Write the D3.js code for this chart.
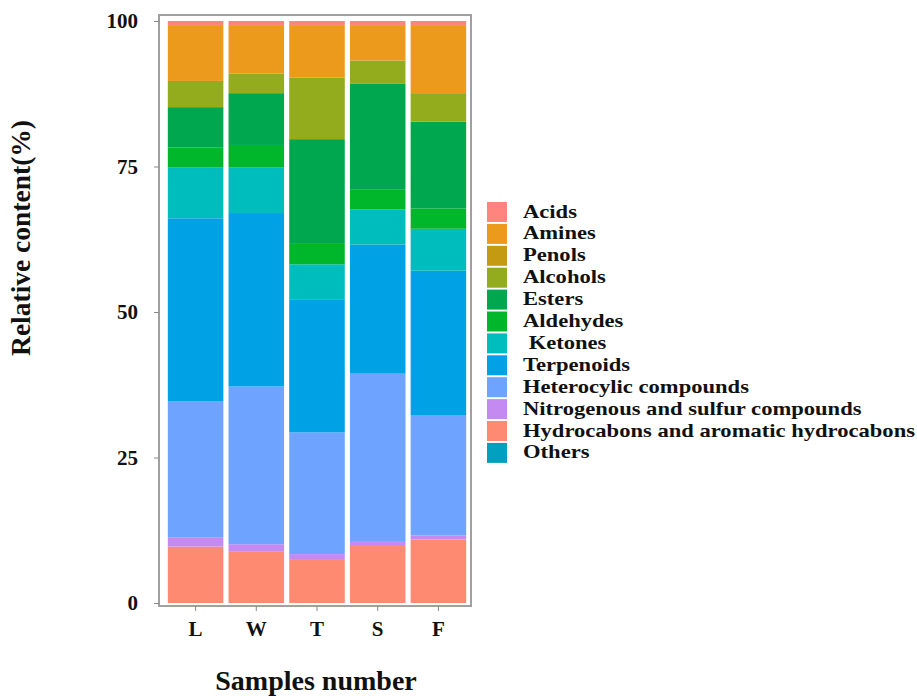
<!DOCTYPE html>
<html>
<head>
<meta charset="utf-8">
<script src="https://cdn.jsdelivr.net/npm/d3@7"></script>
<style>
  body { margin: 0; background: #fff; }
  text { font-family: "Liberation Serif", "Times New Roman", serif; font-weight: bold; fill: #111; }
</style>
</head>
<body>
<svg id="chart" width="917" height="696"></svg>
<script>
// samples and compound groups (legend order)
var samples = ["L", "W", "T", "S", "F"];
var groups = ["Acids", "Amines", "Penols", "Alcohols", "Esters", "Aldehydes", "Ketones",
              "Terpenoids", "Heterocylic compounds", "Nitrogenous and sulfur compounds",
              "Hydrocabons and aromatic hydrocabons", "Others"];
var legendLabels = ["Acids", "Amines", "Penols", "Alcohols", "Esters", "Aldehydes", " Ketones",
              "Terpenoids", "Heterocylic compounds", "Nitrogenous and sulfur compounds",
              "Hydrocabons and aromatic hydrocabons", "Others"];
var colors = ["#FD857E", "#EC9A1C", "#C39A12", "#92AC1E", "#00A74F", "#00B72C", "#00BDBD",
              "#00A2E6", "#6EA4FF", "#C58AF2", "#FF8A72", "#00A0BE"];

// relative content (%) per sample, L W T S F
var acids      = [0.7, 0.7, 0.7, 0.7, 0.7];
var amines     = [9.6, 8.3, 9.0, 6.1, 11.7];
var penols     = [0, 0, 0, 0, 0];
var alcohols   = [4.5, 3.4, 10.6, 4.0, 4.9];
var esters     = [6.9, 8.9, 18.0, 18.2, 14.9];
var aldehydes  = [3.5, 3.9, 3.5, 3.4, 3.5];
var ketones    = [8.7, 7.8, 6.0, 6.0, 7.2];
var terpenoids = [31.4, 29.8, 22.9, 22.2, 24.8];
var hetero     = [23.4, 27.1, 20.9, 28.9, 20.7];
var nitro      = [1.6, 1.3, 1.0, 0.7, 0.7];
var hydro      = [9.7, 8.8, 7.4, 9.8, 10.9];
var others     = [0, 0, 0, 0, 0];

var yTicks = [0, 25, 50, 75, 100];

var series = [acids, amines, penols, alcohols, esters, aldehydes, ketones,
              terpenoids, hetero, nitro, hydro, others];

var table = samples.map(function (s, i) {
    var row = { sample: s };
    groups.forEach(function (g, j) { row[g] = series[j][i]; });
    return row;
});

var svg = d3.select("#chart");
var panel = { left: 159, right: 471, top: 15, bottom: 606 };

var x = d3.scaleBand()
    .domain(samples)
    .range([166, 468])
    .paddingInner(0.085)
    .paddingOuter(0.03);
var y = d3.scaleLinear()
    .domain([0, 100])
    .range([603, 21]);
var color = d3.scaleOrdinal().domain(groups).range(colors);

// first key at the bottom of each bar
var stack = d3.stack().keys(groups.slice().reverse());
var layers = stack(table);

svg.append("g").selectAll("g")
    .data(layers)
  .enter().append("g")
    .attr("fill", function (d) { return color(d.key); })
  .selectAll("rect")
    .data(function (d) { return d; })
  .enter().append("rect")
    .attr("x", function (d) { return x(d.data.sample); })
    .attr("y", function (d) { return y(d[1]); })
    .attr("height", function (d) { return y(d[0]) - y(d[1]); })
    .attr("width", x.bandwidth());

// panel border
svg.append("rect")
    .attr("x", panel.left).attr("y", panel.top)
    .attr("width", panel.right - panel.left)
    .attr("height", panel.bottom - panel.top)
    .attr("fill", "none")
    .attr("stroke", "#a0a0a0")
    .attr("stroke-width", 2);

// y axis
var yAxis = svg.append("g")
    .attr("transform", "translate(" + panel.left + ",0)")
    .call(d3.axisLeft(y).tickValues(yTicks).tickSize(5).tickPadding(16));
yAxis.select(".domain").remove();
yAxis.selectAll(".tick line").attr("stroke", "#888");
yAxis.selectAll(".tick text").attr("font-size", "21px").attr("fill", "#111")
    .attr("font-family", null);

// x axis
var xAxis = svg.append("g")
    .attr("transform", "translate(0," + panel.bottom + ")")
    .call(d3.axisBottom(x).tickSize(5).tickPadding(10));
xAxis.select(".domain").remove();
xAxis.selectAll(".tick line").attr("stroke", "#888");
xAxis.selectAll(".tick text").attr("font-size", "21px").attr("fill", "#111")
    .attr("font-family", null);

// titles
svg.append("text")
    .attr("x", 316).attr("y", 690)
    .attr("text-anchor", "middle")
    .attr("font-size", "28px")
    .text("Samples number");

svg.append("text")
    .attr("transform", "translate(30,238) rotate(-90)")
    .attr("text-anchor", "middle")
    .attr("font-size", "27.5px")
    .text("Relative content(%)");

// legend
var legend = svg.append("g").attr("transform", "translate(487,202)");
var item = legend.selectAll("g")
    .data(groups)
  .enter().append("g")
    .attr("transform", function (d, i) { return "translate(0," + (i * 21.9) + ")"; });
item.append("rect")
    .attr("width", 20).attr("height", 20)
    .attr("fill", function (d) { return color(d); });
var labels = item.append("text")
    .attr("x", 36).attr("y", 15.5)
    .attr("font-size", "19.5px")
    .style("white-space", "pre")
    .text(function (d, i) { return legendLabels[i]; });

// the reference glyphs are a little wide: stretch so the longest label ends near x=915
var widest = d3.max(labels.nodes(), function (n) { return n.getComputedTextLength(); });
var k = 392 / widest;
labels.each(function () {
    var w = this.getComputedTextLength();
    d3.select(this).attr("textLength", w * k).attr("lengthAdjust", "spacingAndGlyphs");
});
</script>
</body>
</html>
